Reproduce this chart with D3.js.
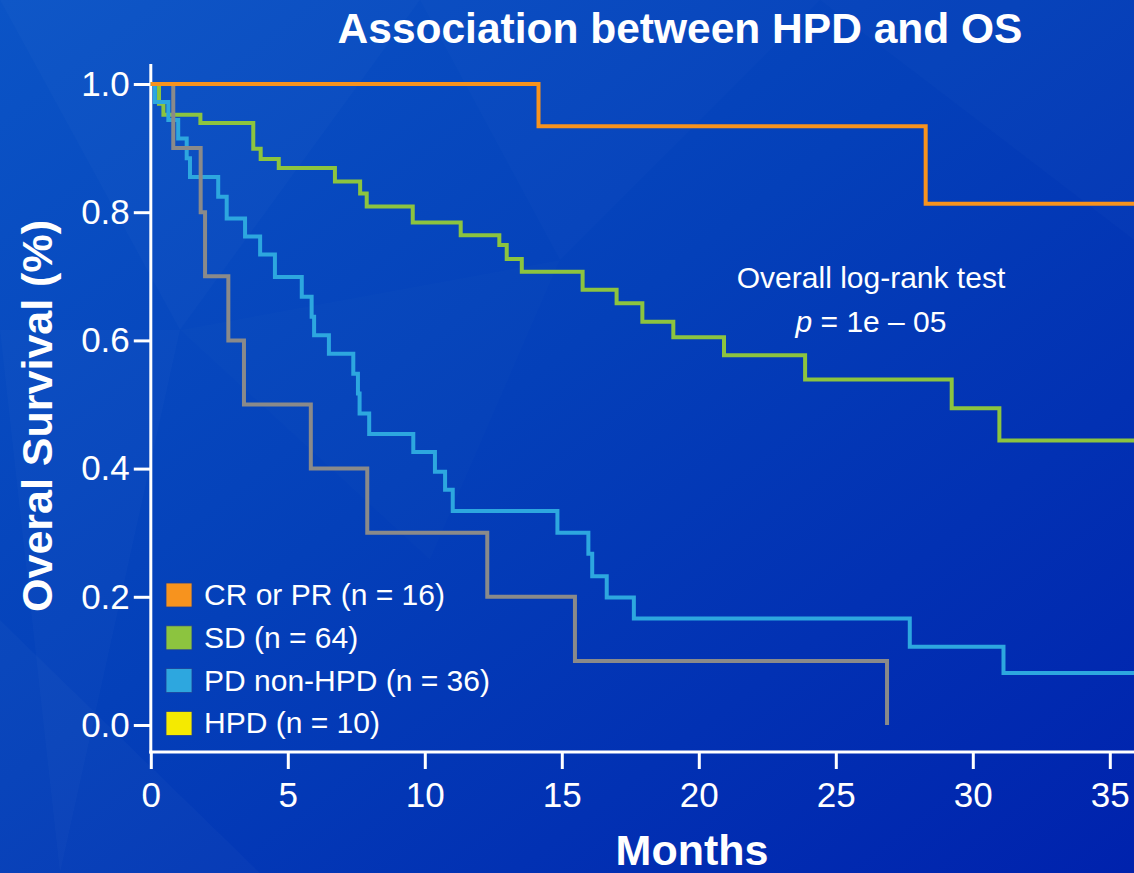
<!DOCTYPE html>
<html>
<head>
<meta charset="utf-8">
<script src="https://cdn.jsdelivr.net/npm/d3@7"></script>
<style>
  html, body { margin: 0; padding: 0; background: #0338b6; }
  svg { display: block; font-family: "Liberation Sans", Arial, Helvetica, sans-serif; }
</style>
</head>
<body>
<svg id="chart" width="1134" height="873"></svg>
<script>
// Kaplan–Meier overall survival by best response group
const monthTicks = [0, 5, 10, 15, 20, 25, 30, 35];
const survivalTicks = [0.0, 0.2, 0.4, 0.6, 0.8, 1.0];

const groupNames = ["CR or PR (n = 16)", "SD (n = 64)", "PD non-HPD (n = 36)", "HPD (n = 10)"];
const legendColors = ["#f7931e", "#8cc43f", "#2da7df", "#f5ea00"];
const lineColors = ["#f7931e", "#8cc43f", "#2da7df", "#8a8a8a"];

// event times (months) and survival just after each event
const crprTimes = [14.15, 28.28];
const crprSurv = [0.934, 0.813];
const crprLastFollowUp = 36.8;

const sdTimes = [0.30, 0.46, 1.81, 3.74, 4.01, 4.67, 6.72, 7.64, 7.88, 9.56, 11.31, 12.72, 12.99, 13.54, 15.76, 17.00, 17.94, 19.07, 20.92, 23.88, 29.23, 30.97];
const sdSurv = [0.969, 0.952, 0.939, 0.899, 0.883, 0.869, 0.848, 0.829, 0.809, 0.784, 0.764, 0.749, 0.727, 0.707, 0.679, 0.658, 0.629, 0.605, 0.577, 0.539, 0.494, 0.444];
const sdLastFollowUp = 36.8;

const pdTimes = [0.15, 0.64, 1.00, 1.31, 1.43, 2.46, 2.77, 3.44, 3.99, 4.53, 5.51, 5.87, 5.96, 6.50, 7.39, 7.56, 7.62, 7.97, 9.58, 10.37, 10.74, 11.02, 14.84, 15.97, 16.11, 16.64, 17.63, 27.70, 31.12];
const pdSurv = [0.972, 0.944, 0.915, 0.884, 0.855, 0.824, 0.790, 0.762, 0.734, 0.699, 0.668, 0.637, 0.608, 0.579, 0.548, 0.517, 0.486, 0.454, 0.426, 0.395, 0.367, 0.334, 0.300, 0.267, 0.232, 0.199, 0.166, 0.122, 0.081];
const pdLastFollowUp = 36.8;

const hpdTimes = [0.82, 1.82, 1.98, 2.83, 3.40, 5.84, 7.90, 12.28, 15.48, 26.87];
const hpdSurv = [0.9, 0.8, 0.7, 0.6, 0.5, 0.4, 0.3, 0.2, 0.1, 0.0];
const hpdLastFollowUp = 26.87;

const svg = d3.select("#chart");
const W = 1134, H = 873;

// ---- background ----
const defs = svg.append("defs");
const bg = defs.append("linearGradient").attr("id", "bg")
  .attr("x1", "0").attr("y1", "0").attr("x2", "1").attr("y2", "1");
bg.append("stop").attr("offset", "0%").attr("stop-color", "#0b54c6");
bg.append("stop").attr("offset", "45%").attr("stop-color", "#0440b9");
bg.append("stop").attr("offset", "100%").attr("stop-color", "#0022ad");
svg.append("rect").attr("width", W).attr("height", H).attr("fill", "url(#bg)");

const facets = [
  [[0, 0], [420, 0], [180, 330]],
  [[420, 0], [820, 0], [560, 260]],
  [[0, 330], [180, 330], [60, 873]],
  [[180, 330], [560, 260], [430, 560]],
  [[820, 0], [1134, 0], [1134, 240]],
  [[0, 620], [260, 873], [0, 873]]
];
svg.append("g").selectAll("polygon").data(facets).join("polygon")
  .attr("points", d => d.map(p => p.join(",")).join(" "))
  .attr("fill", "#ffffff")
  .attr("opacity", (d, i) => [0.018, 0.015, 0.02, 0.012, 0.015, 0.025][i]);

// ---- scales ----
const x = d3.scaleLinear().domain([0, 35]).range([150.8, 1109.8]);
const y = d3.scaleLinear().domain([0, 1]).range([725, 84]);
const axisY = 752;

// ---- axes ----
const yAxis = d3.axisLeft(y).tickValues(survivalTicks).tickFormat(d3.format(".1f"))
  .tickSize(17).tickPadding(4);
const gy = svg.append("g").attr("transform", `translate(${x(0)},0)`).call(yAxis);
gy.select(".domain").remove();
gy.selectAll(".tick line").attr("stroke", "#ffffff").attr("stroke-width", 3);
gy.selectAll(".tick text").attr("fill", "#ffffff").attr("font-size", 35)
  .attr("font-family", "Liberation Sans, Arial, sans-serif");

const xAxis = d3.axisBottom(x).tickValues(monthTicks).tickFormat(d3.format("d"))
  .tickSize(17).tickPadding(13);
const gx = svg.append("g").attr("transform", `translate(0,${axisY})`).call(xAxis);
gx.select(".domain").remove();
gx.selectAll(".tick line").attr("stroke", "#ffffff").attr("stroke-width", 3);
gx.selectAll(".tick text").attr("fill", "#ffffff").attr("font-size", 35)
  .attr("font-family", "Liberation Sans, Arial, sans-serif");

// axis lines
svg.append("line").attr("x1", x(0)).attr("x2", x(0)).attr("y1", 64).attr("y2", axisY + 1.5)
  .attr("stroke", "#ffffff").attr("stroke-width", 3);
svg.append("line").attr("x1", x(0) - 1.5).attr("x2", W).attr("y1", axisY).attr("y2", axisY)
  .attr("stroke", "#ffffff").attr("stroke-width", 3);

// ---- survival curves ----
function curvePoints(times, surv, last) {
  const pts = [[0, 1]];
  times.forEach((t, i) => pts.push([t, surv[i]]));
  pts.push([last, surv[surv.length - 1]]);
  return pts;
}
const series = [
  { pts: curvePoints(sdTimes, sdSurv, sdLastFollowUp), color: lineColors[1] },
  { pts: curvePoints(pdTimes, pdSurv, pdLastFollowUp), color: lineColors[2] },
  { pts: curvePoints(hpdTimes, hpdSurv, hpdLastFollowUp), color: lineColors[3] },
  { pts: curvePoints(crprTimes, crprSurv, crprLastFollowUp), color: lineColors[0] }
];
const line = d3.line().x(d => x(d[0])).y(d => y(d[1])).curve(d3.curveStepAfter);
svg.append("g").selectAll("path").data(series).join("path")
  .attr("d", d => line(d.pts))
  .attr("fill", "none")
  .attr("stroke", d => d.color)
  .attr("stroke-width", 4)
  .attr("stroke-linejoin", "miter")
  .attr("stroke-linecap", "butt");

// ---- legend ----
const legend = svg.append("g");
const items = legend.selectAll("g").data(groupNames).join("g")
  .attr("transform", (d, i) => `translate(166,${583 + i * 42.8})`);
items.append("rect").attr("width", 26).attr("height", 24)
  .attr("fill", (d, i) => legendColors[i])
  .attr("stroke", "#1d3f9a").attr("stroke-width", 0.8);
items.append("text").attr("x", 38).attr("y", 22).attr("fill", "#ffffff")
  .attr("font-size", 30).text(d => d);

// ---- annotation ----
svg.append("text").attr("x", 871).attr("y", 288).attr("text-anchor", "middle")
  .attr("fill", "#ffffff").attr("font-size", 30).text("Overall log-rank test");
const pText = svg.append("text").attr("x", 871).attr("y", 332).attr("text-anchor", "middle")
  .attr("fill", "#ffffff").attr("font-size", 30);
pText.append("tspan").attr("font-style", "italic").text("p");
pText.append("tspan").text(" = 1e \u2013 05");

// ---- titles ----
svg.append("text").attr("x", 680).attr("y", 43).attr("text-anchor", "middle")
  .attr("fill", "#ffffff").attr("font-size", 42.5).attr("font-weight", "bold")
  .text("Association between HPD and OS");
svg.append("text").attr("x", 692).attr("y", 865).attr("text-anchor", "middle")
  .attr("fill", "#ffffff").attr("font-size", 43).attr("font-weight", "bold")
  .text("Months");
svg.append("text").attr("transform", "translate(52,416) rotate(-90)").attr("text-anchor", "middle")
  .attr("fill", "#ffffff").attr("font-size", 43).attr("font-weight", "bold")
  .text("Overal Survival (%)");
</script>
</body>
</html>
